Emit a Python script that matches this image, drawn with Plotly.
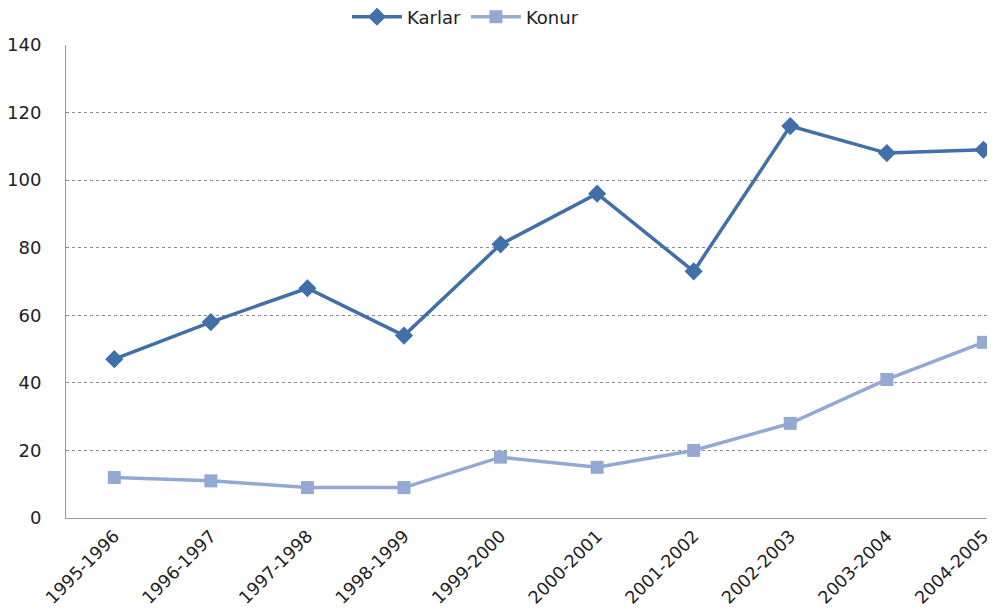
import plotly.graph_objects as go

categories = ["1995-1996", "1996-1997", "1997-1998", "1998-1999", "1999-2000",
              "2000-2001", "2001-2002", "2002-2003", "2003-2004", "2004-2005"]
karlar = [47, 58, 68, 54, 81, 96, 73, 116, 108, 109]
konur = [12, 11, 9, 9, 18, 15, 20, 28, 41, 52]
y_ticks = [0, 20, 40, 60, 80, 100, 120, 140]

font_family = "DejaVu Sans, sans-serif"

fig = go.Figure()
fig.add_trace(go.Scatter(
    x=categories, y=karlar, name="Karlar", mode="lines+markers",
    line=dict(color="#4170A9", width=3.5),
    marker=dict(symbol="diamond", size=14, color="#4170A9"),
    cliponaxis=False,
))
fig.add_trace(go.Scatter(
    x=categories, y=konur, name="Konur", mode="lines+markers",
    line=dict(color="#93A9D3", width=3.5),
    marker=dict(symbol="square", size=13, color="#93A9D3"),
    cliponaxis=False,
))

fig.update_layout(
    width=987, height=604,
    margin=dict(l=58, r=0, t=37, b=94, autoexpand=False),
    paper_bgcolor="white", plot_bgcolor="white",
    font=dict(family=font_family, size=18, color="#222222"),
    showlegend=True,
    legend=dict(orientation="h", x=0.43, xanchor="center",
                yref="container", y=0.985, yanchor="middle",
                font=dict(size=18), bgcolor="rgba(0,0,0,0)", itemwidth=50),
    xaxis=dict(
        type="category", range=[-0.5, 9.12],
        tickangle=-45, showgrid=False,
        showline=True, linecolor="#9a9a9a", linewidth=1,
        ticks="", tickfont=dict(size=17.5),
    ),
    yaxis=dict(
        range=[0, 140], tickvals=y_ticks, ticktext=[str(v) for v in y_ticks],
        showgrid=True, gridcolor="#8c8c8c", griddash="dot", gridwidth=1,
        showline=True, linecolor="#9a9a9a", linewidth=1,
        zeroline=False, ticks="", ticklabelstandoff=20, tickfont=dict(size=18),
    ),
)

fig.write_html("out.html")
